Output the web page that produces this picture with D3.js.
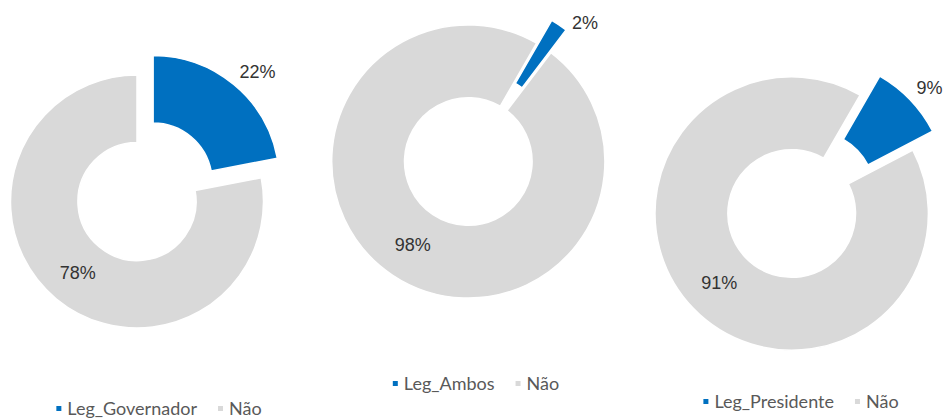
<!DOCTYPE html>
<html>
<head>
<meta charset="utf-8">
<script src="https://cdn.jsdelivr.net/npm/d3@7"></script>
<style>
  html, body { margin: 0; padding: 0; background: #fff; }
  svg { display: block; }
</style>
</head>
<body>
<svg id="chart" width="947" height="419"></svg>
<script>
// Share of legislators per group ("Sim" slice) and the remainder ("Não")
const seriesNames = ["Leg_Governador", "Leg_Ambos", "Leg_Presidente"];
const simValues   = [22, 2, 9];
const naoValues   = [78, 98, 91];
const naoLabel    = "Não";

// Layout of each doughnut: centre, outer radius, first-slice angle (deg),
// outside-label nudge, legend anchor
const layout = [
  { cx: 137,   cy: 201.5, r: 126.5, start: 0,  nudge: [0, 0],  legendCx: 159, legendY: 415 },
  { cx: 468.3, cy: 161.5, r: 136.6, start: 30, nudge: [8, 12], legendCx: 476, legendY: 390 },
  { cx: 791.7, cy: 213.5, r: 136.7, start: 30, nudge: [0, 0],  legendCx: 801, legendY: 408 }
];

const colors = d3.scaleOrdinal().domain(["sim", "nao"]).range(["#0070C0", "#D9D9D9"]);
const holeRatio = 0.467;
const explode = 0.2;          // exploded slice offset, fraction of radius
const labelFont = "'Liberation Sans', Arial, sans-serif";
const legendFont = "Lato, 'Open Sans', sans-serif";

const svg = d3.select("#chart");

seriesNames.forEach((name, i) => {
  const L = layout[i];
  const data = [
    { key: "sim", label: name,     value: simValues[i] },
    { key: "nao", label: naoLabel, value: naoValues[i] }
  ];
  const a0 = L.start * Math.PI / 180;
  const pie = d3.pie().sort(null).value(d => d.value)
    .startAngle(a0).endAngle(a0 + 2 * Math.PI);
  const arc = d3.arc().innerRadius(L.r * holeRatio).outerRadius(L.r);
  const arcs = pie(data);

  const g = svg.append("g").attr("transform", `translate(${L.cx},${L.cy})`);

  const off = d => {
    if (d.data.key !== "sim") return [0, 0];
    const m = (d.startAngle + d.endAngle) / 2;
    return [Math.sin(m) * L.r * explode, -Math.cos(m) * L.r * explode];
  };

  g.selectAll("path.slice").data(arcs).join("path")
    .attr("class", "slice")
    .attr("d", arc)
    .attr("transform", d => `translate(${off(d)})`)
    .attr("fill", d => colors(d.data.key))
    .attr("stroke", "#fff")
    .attr("stroke-width", 1.5);

  // value labels: remainder inside the ring, exploded slice outside its outer edge
  arcs.forEach(d => {
    const txt = d.data.value + "%";
    if (d.data.key === "nao") {
      const [x, y] = arc.centroid(d);
      g.append("text").attr("x", x).attr("y", y).attr("dy", "0.35em")
        .attr("text-anchor", "middle")
        .style("font-family", labelFont).style("font-size", "18px").attr("fill", "#333")
        .text(txt);
    } else {
      const m = (d.startAngle + d.endAngle) / 2;
      const rr = L.r * (1 + explode) + 9;
      g.append("text")
        .attr("x", Math.sin(m) * rr + L.nudge[0])
        .attr("y", -Math.cos(m) * rr + L.nudge[1])
        .attr("text-anchor", "start")
        .style("font-family", labelFont).style("font-size", "18px").attr("fill", "#333")
        .text(txt);
    }
  });

  // legend row beneath the doughnut
  const lg = svg.append("g");
  let x = 0;
  data.forEach((d, k) => {
    const item = lg.append("g").attr("transform", `translate(${x},0)`);
    item.append("rect").attr("x", 0).attr("y", -9).attr("width", 5).attr("height", 5)
      .attr("fill", colors(d.key));
    const t = item.append("text").attr("x", 11).attr("y", 0)
      .style("font-family", legendFont).style("font-size", "18px").attr("fill", "#595959")
      .text(d.label);
    x += 11 + t.node().getComputedTextLength() + 21;
  });
  const w = x - 21;
  lg.attr("transform", `translate(${L.legendCx - w / 2},${L.legendY})`);
});
</script>
</body>
</html>
